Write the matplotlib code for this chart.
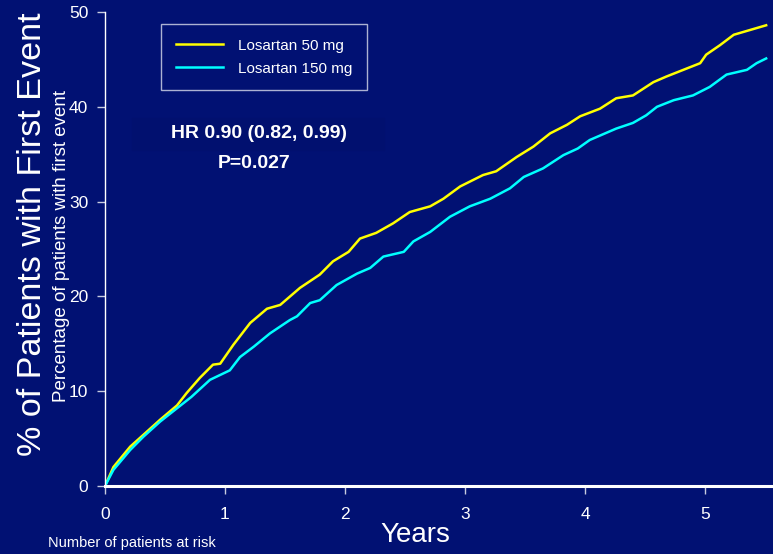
import matplotlib
matplotlib.use("Agg")
import matplotlib.pyplot as plt
from matplotlib.patches import Rectangle

plt.rcParams["font.family"] = ["Liberation Sans", "DejaVu Sans"]

BG = "#011173"

years_50 = [0, 0.07, 0.21, 0.32, 0.46, 0.60, 0.68, 0.79, 0.90, 0.96, 1.07, 1.21,
            1.35, 1.46, 1.625, 1.79, 1.90, 2.03, 2.125, 2.26, 2.40, 2.54, 2.71,
            2.82, 2.96, 3.15, 3.26, 3.43, 3.57, 3.71, 3.85, 3.96, 4.125, 4.26,
            4.40, 4.57, 4.68, 4.82, 4.96, 5.01, 5.125, 5.24, 5.375, 5.51]
pct_50 = [0, 2.0, 4.15, 5.4, 7.0, 8.5, 9.8, 11.4, 12.8, 12.9, 14.9, 17.2,
          18.7, 19.1, 20.9, 22.3, 23.7, 24.7, 26.1, 26.7, 27.7, 28.9, 29.5,
          30.3, 31.6, 32.8, 33.2, 34.7, 35.8, 37.2, 38.1, 39.0, 39.8, 40.9,
          41.2, 42.6, 43.2, 43.9, 44.6, 45.5, 46.5, 47.6, 48.1, 48.6]

years_150 = [0, 0.07, 0.21, 0.32, 0.46, 0.60, 0.72, 0.875, 1.04, 1.125, 1.24,
             1.375, 1.54, 1.60, 1.71, 1.79, 1.93, 2.10, 2.21, 2.32, 2.49, 2.57,
             2.71, 2.875, 3.04, 3.21, 3.375, 3.49, 3.65, 3.82, 3.94, 4.04, 4.26,
             4.40, 4.51, 4.60, 4.74, 4.90, 5.04, 5.18, 5.35, 5.43, 5.51]
pct_150 = [0, 1.7, 3.8, 5.2, 6.8, 8.2, 9.4, 11.2, 12.2, 13.6, 14.7,
           16.1, 17.5, 17.9, 19.3, 19.6, 21.2, 22.4, 23.0, 24.2, 24.7, 25.8,
           26.8, 28.4, 29.5, 30.3, 31.4, 32.6, 33.5, 34.9, 35.6, 36.5, 37.7,
           38.3, 39.1, 40.0, 40.7, 41.2, 42.1, 43.4, 43.9, 44.6, 45.1]

x_ticks = [0, 1, 2, 3, 4, 5]
y_ticks = [0, 10, 20, 30, 40, 50]

W, H = 773, 554
fig = plt.figure(figsize=(W / 100, H / 100), dpi=100, facecolor=BG)

# faint box behind the HR text
fig.patches.append(Rectangle((132 / W, 1 - 150 / H), 252 / W, 32 / H,
                             transform=fig.transFigure, color="#01106f", zorder=0))

ax = fig.add_axes([105 / W, 68 / H, 668 / W, 474 / H])
ax.set_facecolor("none")

ax.plot(years_50, pct_50, color="#ffff00", lw=1.8, label="Losartan 50 mg")
ax.plot(years_150, pct_150, color="#00ffff", lw=1.8, label="Losartan 150 mg")

ax.set_xlim(0, 5.567)
ax.set_ylim(0, 50)
ax.set_xticks(x_ticks)
ax.set_yticks(y_ticks)

for s in ["top", "right"]:
    ax.spines[s].set_visible(False)
ax.spines["left"].set_color("white")
ax.spines["left"].set_linewidth(1)
ax.spines["bottom"].set_color("white")
ax.spines["bottom"].set_linewidth(2.2)
ax.tick_params(colors="#c8cce0", labelcolor="white", labelsize=12.5,
               length=6, width=1, direction="out")
ax.tick_params(axis="x", pad=9)
ax.tick_params(axis="y", pad=6)

leg = ax.legend(loc="upper left", bbox_to_anchor=(161 / W, 1 - 24 / H),
                bbox_transform=fig.transFigure, frameon=True, fancybox=False,
                fontsize=11, handlelength=3.1, handletextpad=1.0,
                labelspacing=0.6, borderpad=0.95, borderaxespad=0)
leg.get_frame().set_facecolor(BG)
leg.get_frame().set_edgecolor("#d8dcec")
leg.get_frame().set_linewidth(1)
for t in leg.get_texts():
    t.set_color("white")

fig.text(259 / W, 1 - 133 / H, "HR 0.90 (0.82, 0.99)", color="white",
         fontsize=14, fontweight="bold", ha="center", va="center")
fig.text(254 / W, 1 - 163 / H, "P=0.027", color="white",
         fontsize=14, fontweight="bold", ha="center", va="center")

fig.text(33 / W, 1 - 234 / H, "% of Patients with First Event", color="white",
         fontsize=24.6, rotation=90, ha="center", va="center")
fig.text(62 / W, 1 - 246 / H, "Percentage of patients with first event",
         color="white", fontsize=13.5, rotation=90, ha="center", va="center")

fig.text(415 / W, 1 - 535 / H, "Years", color="white", fontsize=20,
         ha="center", va="center")
fig.text(48 / W, 1 - 543 / H, "Number of patients at risk", color="white",
         fontsize=10.5, ha="left", va="center")

fig.savefig("out.png", dpi=100, facecolor=BG)
